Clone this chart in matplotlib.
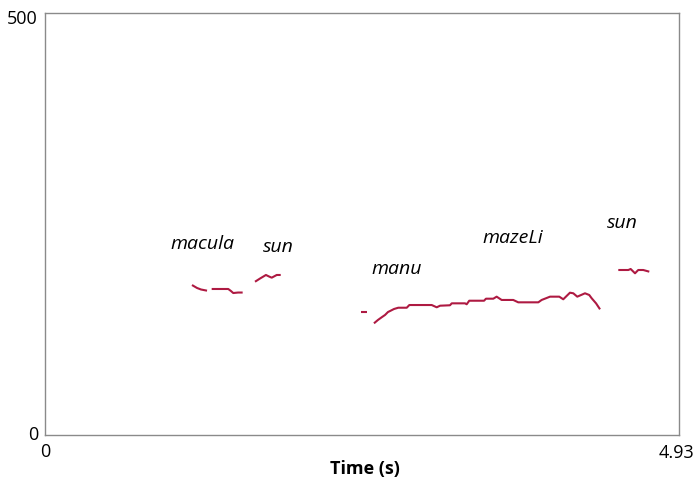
import numpy as np
import matplotlib
matplotlib.use("Agg")
import matplotlib.pyplot as plt

# Pitch track segments (time in s, F0 in Hz); NaN separates voiced stretches
seg_time = [
    [1.143, 1.182, 1.213, 1.260, np.nan, 1.296, 1.361, 1.425, 1.446, 1.464, 1.501, 1.537],
    [1.633, 1.672, 1.718, 1.742, 1.763, 1.802, 1.833],
    [2.457, 2.502],
    [2.558, 2.589, 2.621, 2.644, 2.667, 2.683, 2.714, 2.747, 2.813, 2.833, 2.916, 3.007,
     3.046, 3.072, 3.149, 3.163, 3.266, 3.279, 3.299, 3.414, 3.429, 3.486, 3.512, 3.551,
     3.641, 3.680, 3.836, 3.862, 3.927, 3.999, 4.030, 4.082, 4.108, 4.139, 4.199, 4.232,
     4.251, 4.285, 4.316],
    [4.458, 4.536, 4.554, 4.588, 4.613, 4.652, 4.699],
]
seg_f0 = [
    [177.7, 174.2, 172.4, 171.0, np.nan, 173.0, 173.0, 173.0, 170.6, 168.2, 168.8, 168.8],
    [181.6, 185.4, 189.6, 187.8, 186.4, 189.6, 189.6],
    [146.1, 146.1],
    [132.3, 136.3, 139.8, 142.2, 145.7, 146.9, 149.3, 150.8, 150.8, 154.0, 154.0, 154.0,
     151.3, 153.2, 153.7, 156.0, 156.0, 154.9, 159.1, 159.1, 161.5, 161.5, 163.9, 160.0,
     160.0, 157.2, 157.2, 160.0, 163.9, 163.9, 160.8, 168.6, 167.9, 163.9, 167.9, 165.9,
     162.0, 156.0, 148.9],
    [195.5, 195.5, 196.7, 191.6, 195.5, 195.5, 193.5],
]

word_labels = ["macula", "sun", "manu", "mazeLi", "sun"]
word_x = [1.221, 1.812, 2.737, 3.639, 4.487]
word_y = [226.3, 222.7, 196.7, 233.4, 251.2]

x_min, x_max = 0, 4.93
y_min, y_max = 0, 500
x_ticklabels = ["0", "4.93"]
y_ticklabels = ["0", "500"]

plt.rcParams['font.family'] = ['Open Sans', 'DejaVu Sans']

fig = plt.figure(figsize=(6.98, 4.82), dpi=100)
ax = fig.add_axes([45/698, 47/482, 634/698, 422/482])

line_color = "#AE1A42"
for t, f in zip(seg_time, seg_f0):
    ax.plot(t, f, color=line_color, lw=1.5, solid_capstyle='butt')

for lab, x, y in zip(word_labels, word_x, word_y):
    ax.text(x, y, lab, ha='center', va='center', fontsize=14, style='italic', color='black')

ax.set_xlim(x_min, x_max)
ax.set_ylim(y_min, y_max)
ax.set_xticks([])
ax.set_yticks([])
for s in ax.spines.values():
    s.set_color('#8a8a8a')
    s.set_linewidth(1.0)

# Praat-style corner labels
ax.text(-0.06, 493, y_ticklabels[1], ha='right', va='center', fontsize=13, clip_on=False)
ax.text(-0.055, y_min, y_ticklabels[0], ha='right', va='center', fontsize=13, clip_on=False)
ax.text(x_min, -20, x_ticklabels[0], ha='center', va='center', fontsize=13, clip_on=False)
ax.text(x_max - 0.02, -21, x_ticklabels[1], ha='center', va='center', fontsize=13, clip_on=False)
ax.text(2.49, -40, "Time (s)", ha='center', va='center', fontsize=13,
        fontweight='bold', clip_on=False)

fig.savefig("out.png", dpi=100)
